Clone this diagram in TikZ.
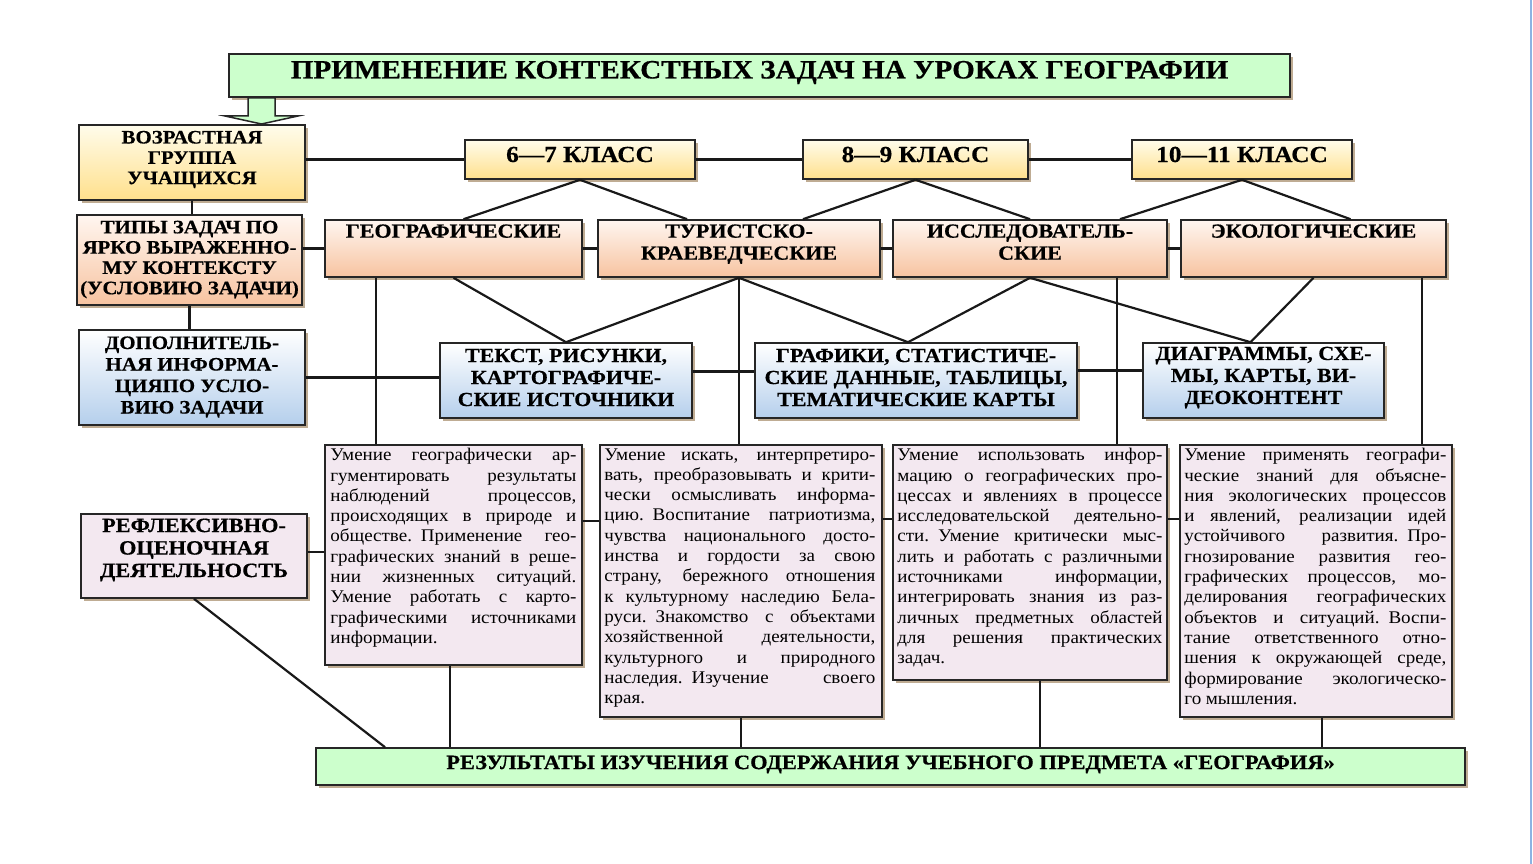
\documentclass[tikz,border=0pt]{standalone}
\usepackage{fontspec}
\setmainfont{Liberation Serif}
\newfontfamily\hdf[FakeStretch=1.1, FakeBold=0.5]{Liberation Serif Bold}
\newfontfamily\bodyf[FakeStretch=1.07]{Liberation Serif}
\usetikzlibrary{shadows}
\definecolor{ylTop}{HTML}{FFFCEB}
\definecolor{ylBot}{HTML}{FFE08C}
\definecolor{saTop}{HTML}{FFF6F0}
\definecolor{saBot}{HTML}{F7C3A0}
\definecolor{blTop}{HTML}{FFFFFF}
\definecolor{blBot}{HTML}{B5CFEC}
\definecolor{grn}{HTML}{CCFFCC}
\definecolor{pnk}{HTML}{F3E8F0}
\definecolor{shd}{HTML}{B09878}
\definecolor{edge}{HTML}{8DB3E2}
\newlength\tw
\newcommand\jl[1]{\hbox to \tw{\spaceskip=0.26em plus 3em minus 0.08em\relax #1}}
\newcommand\lastln[1]{\hbox{\spaceskip=0.26em plus 0.1em minus 0.06em\relax #1}}
\tikzset{
  box/.style={draw=black!85, line width=1.6pt, inner sep=0pt,
    drop shadow={shadow xshift=3pt, shadow yshift=-3pt, fill=shd, opacity=0.8}},
  ybox/.style={box, top color=ylTop, bottom color=ylBot},
  sbox/.style={box, top color=saTop, bottom color=saBot},
  bbox/.style={box, top color=blTop, bottom color=blBot},
  gbox/.style={box, fill=grn},
  pbox/.style={box, fill=pnk},
  hd/.style={inner sep=0pt, align=center, font=\hdf\fontsize{19}{20.3}\selectfont},
  body/.style={font=\bodyf\fontsize{17.8}{20.3}\selectfont, inner sep=0pt, align=left, anchor=north west},
  conn/.style={draw=black!90, line width=2.2pt}
}
\begin{document}
\begin{tikzpicture}[x=1pt, y=-1pt]
\useasboundingbox (0,0) rectangle (1533,864);
\fill[white] (0,0) rectangle (1533,864);
\draw[edge, line width=2pt] (1531,0) -- (1531,864);

% title and arrow
\node[gbox, minimum width=1061pt, minimum height=43pt] (title) at (759.5,75.5) {};
\node[hd, font=\hdf\fontsize{26.5}{28}\selectfont] (titleT) at ([yshift=3pt]title.center) {ПРИМЕНЕНИЕ КОНТЕКСТНЫХ ЗАДАЧ НА УРОКАХ ГЕОГРАФИИ};
\filldraw[fill=grn, draw=black!85, line width=1.5pt] (248,98) -- (275,98) -- (275,116) -- (298,116) -- (261.5,124) -- (225,116) -- (248,116) -- cycle;

% left column
\node[ybox, minimum width=226pt, minimum height=75pt] (A) at (192,162.5) {};
\node[hd] (AT) at ([yshift=3pt]A.center) {ВОЗРАСТНАЯ\\ГРУППА\\УЧАЩИХСЯ};
\node[sbox, minimum width=225pt, minimum height=90pt] (B) at (189.5,260) {};
\node[hd] (BT) at ([yshift=0.5pt]B.center) {ТИПЫ ЗАДАЧ ПО\\ЯРКО ВЫРАЖЕННО-\\МУ КОНТЕКСТУ\\(УСЛОВИЮ ЗАДАЧИ)};
\node[bbox, minimum width=226pt, minimum height=95pt] (C) at (192,377.5) {};
\node[hd, font=\hdf\fontsize{19}{21.5}\selectfont] (CT) at ([yshift=0.5pt]C.center) {ДОПОЛНИТЕЛЬ-\\НАЯ ИНФОРМА-\\ЦИЯПО УСЛО-\\ВИЮ ЗАДАЧИ};
\node[pbox, minimum width=226pt, minimum height=84pt] (D) at (194,556) {};
\node[hd, font=\hdf\fontsize{20.3}{22.5}\selectfont] (DT) at ([yshift=6pt]D.center) {РЕФЛЕКСИВНО-\\ОЦЕНОЧНАЯ\\ДЕЯТЕЛЬНОСТЬ};

% classes
\node[ybox, minimum width=230pt, minimum height=39pt] (k67) at (580,159.5) {};
\node[ybox, minimum width=225pt, minimum height=39pt] (k89) at (915.5,159.5) {};
\node[ybox, minimum width=220pt, minimum height=39pt] (k1011) at (1242,159.5) {};
\node[hd, font=\hdf\fontsize{23}{24}\selectfont] (k67T) at ([yshift=5pt]k67.center) {6—7 КЛАСС};
\node[hd, font=\hdf\fontsize{23}{24}\selectfont] (k89T) at ([yshift=5pt]k89.center) {8—9 КЛАСС};
\node[hd, font=\hdf\fontsize{23}{24}\selectfont] (k1011T) at ([yshift=5pt]k1011.center) {10—11 КЛАСС};

% task types
\node[sbox, minimum width=257pt, minimum height=57pt] (geo) at (453.5,248.5) {};
\node[sbox, minimum width=282pt, minimum height=57pt] (tur) at (739,248.5) {};
\node[sbox, minimum width=274pt, minimum height=57pt] (issl) at (1030,248.5) {};
\node[sbox, minimum width=265pt, minimum height=57pt] (eco) at (1313.5,248.5) {};
\node[hd, anchor=north, font=\hdf\fontsize{20}{22}\selectfont] (geoT) at ([yshift=-5pt]geo.north) {ГЕОГРАФИЧЕСКИЕ};
\node[hd, anchor=north, font=\hdf\fontsize{20}{22}\selectfont] (turT) at ([yshift=-5pt]tur.north) {ТУРИСТСКО-\\КРАЕВЕДЧЕСКИЕ};
\node[hd, anchor=north, font=\hdf\fontsize{20}{22}\selectfont] (isslT) at ([yshift=-5pt]issl.north) {ИССЛЕДОВАТЕЛЬ-\\СКИЕ};
\node[hd, anchor=north, font=\hdf\fontsize{20}{22}\selectfont] (ecoT) at ([yshift=-5pt]eco.north) {ЭКОЛОГИЧЕСКИЕ};

% sources
\node[bbox, minimum width=252pt, minimum height=75pt] (tekst) at (566,380.5) {};
\node[bbox, minimum width=322pt, minimum height=75pt] (graf) at (916,380.5) {};
\node[bbox, minimum width=241pt, minimum height=75pt] (diag) at (1263.5,380.5) {};
\node[hd, font=\hdf\fontsize{20}{22}\selectfont] (tekstT) at ([yshift=3pt]tekst.center) {ТЕКСТ, РИСУНКИ,\\КАРТОГРАФИЧЕ-\\СКИЕ ИСТОЧНИКИ};
\node[hd, font=\hdf\fontsize{20}{22}\selectfont] (grafT) at ([yshift=3pt]graf.center) {ГРАФИКИ, СТАТИСТИЧЕ-\\СКИЕ ДАННЫЕ, ТАБЛИЦЫ,\\ТЕМАТИЧЕСКИЕ КАРТЫ};
\node[hd, font=\hdf\fontsize{20}{22}\selectfont] (diagT) at ([yshift=3pt]diag.center) {ДИАГРАММЫ, СХЕ-\\МЫ, КАРТЫ, ВИ-\\ДЕОКОНТЕНТ};

% result text boxes
\node[pbox, minimum width=257pt, minimum height=220pt] (t1) at (453.5,555) {};
\node[pbox, minimum width=282pt, minimum height=272pt] (t2) at (741,581) {};
\node[pbox, minimum width=274pt, minimum height=235pt] (t3) at (1030,562.5) {};
\node[pbox, minimum width=272pt, minimum height=272pt] (t4) at (1316,581) {};

\setlength\tw{246pt}
\node[body, text width=246pt] (t1T) at ([xshift=6pt, yshift=-4pt]t1.north west) {%
\jl{Умение географически ар-}
\jl{гументировать результаты}
\jl{наблюдений процессов,}
\jl{происходящих в природе и}
\jl{обществе. Применение гео-}
\jl{графических знаний в реше-}
\jl{нии жизненных ситуаций.}
\jl{Умение работать с карто-}
\jl{графическими источниками}
\lastln{информации.}};
\setlength\tw{271pt}
\node[body, text width=271pt] (t2T) at ([xshift=5pt, yshift=-4pt]t2.north west) {%
\jl{Умение искать, интерпретиро-}
\jl{вать, преобразовывать и крити-}
\jl{чески осмысливать информа-}
\jl{цию. Воспитание патриотизма,}
\jl{чувства национального досто-}
\jl{инства и гордости за свою}
\jl{страну, бережного отношения}
\jl{к культурному наследию Бела-}
\jl{руси. Знакомство с объектами}
\jl{хозяйственной деятельности,}
\jl{культурного и природного}
\jl{наследия. Изучение своего}
\lastln{края.}};
\setlength\tw{265pt}
\node[body, text width=265pt] (t3T) at ([xshift=5pt, yshift=-4pt]t3.north west) {%
\jl{Умение использовать инфор-}
\jl{мацию о географических про-}
\jl{цессах и явлениях в процессе}
\jl{исследовательской деятельно-}
\jl{сти. Умение критически мыс-}
\jl{лить и работать с различными}
\jl{источниками информации,}
\jl{интегрировать знания из раз-}
\jl{личных предметных областей}
\jl{для решения практических}
\lastln{задач.}};
\setlength\tw{262pt}
\node[body, text width=262pt] (t4T) at ([xshift=5pt, yshift=-4pt]t4.north west) {%
\jl{Умение применять географи-}
\jl{ческие знаний для объясне-}
\jl{ния экологических процессов}
\jl{и явлений, реализации идей}
\jl{устойчивого развития. Про-}
\jl{гнозирование развития гео-}
\jl{графических процессов, мо-}
\jl{делирования географических}
\jl{объектов и ситуаций. Воспи-}
\jl{тание ответственного отно-}
\jl{шения к окружающей среде,}
\jl{формирование экологическо-}
\lastln{го мышления.}};

% bottom
\node[gbox, minimum width=1149pt, minimum height=37pt] (E) at (890.5,766.5) {};
\node[hd, font=\hdf\fontsize{20.4}{22}\selectfont] (ET) at ([yshift=2pt]E.center) {РЕЗУЛЬТАТЫ ИЗУЧЕНИЯ СОДЕРЖАНИЯ УЧЕБНОГО ПРЕДМЕТА «ГЕОГРАФИЯ»};

% connectors
\draw[conn] (A.east |- k67.west) -- (k67.west);
\draw[conn] (k67.east) -- (k89.west);
\draw[conn] (k89.east) -- (k1011.west);
\draw[conn] (A.south) -- (A.south |- B.north);
\draw[conn] (B.south) -- (B.south |- C.north);
\draw[conn] (geo.west -| B.east) -- (geo.west);
\draw[conn] (geo.east) -- (tur.west);
\draw[conn] (tur.east) -- (issl.west);
\draw[conn] (issl.east) -- (eco.west);
\draw[conn] (k67.south) -- ([xshift=10pt]geo.north);
\draw[conn] (k67.south) -- ([xshift=-52pt]tur.north);
\draw[conn] (k89.south) -- ([xshift=64pt]tur.north);
\draw[conn] (k89.south) -- (issl.north);
\draw[conn] (k1011.south) -- ([xshift=90pt]issl.north);
\draw[conn] (k1011.south) -- ([xshift=37pt]eco.north);
\draw[conn] (C.east) -- (C.east -| tekst.west);
\draw[conn] ([yshift=9pt]tekst.east) -- ([yshift=9pt]graf.west);
\draw[conn] ([yshift=10pt]graf.east) -- ([yshift=10pt]diag.west);
\draw[conn] (geo.south) -- (tekst.north);
\draw[conn] (tur.south) -- (tekst.north);
\draw[conn] (tur.south) -- ([xshift=-8pt]graf.north);
\draw[conn] (issl.south) -- ([xshift=-8pt]graf.north);
\draw[conn] (issl.south) -- ([xshift=-13pt]diag.north);
\draw[conn] (eco.south) -- ([xshift=-13pt]diag.north);
\draw[conn] ([xshift=-77.5pt]geo.south) -- ([xshift=-77.5pt]geo.south |- t1.north);
\draw[conn] (tur.south) -- (tur.south |- t2.north);
\draw[conn] ([xshift=87pt]issl.south) -- ([xshift=87pt]issl.south |- t3.north);
\draw[conn] ([xshift=108.5pt]eco.south) -- ([xshift=108.5pt]eco.south |- t4.north);
\draw[conn] ([yshift=-77pt]t1.north east) -- ([yshift=-77pt]t2.north west);
\draw[conn] ([yshift=-75pt]t2.north east) -- ([yshift=-75pt]t3.north west);
\draw[conn] ([yshift=-75pt]t3.north east) -- ([yshift=-75pt]t4.north west);
\draw[conn] ([yshift=4pt]D.east) -- ([yshift=4pt]D.east -| t1.west);
\draw[conn] (D.south) -- ([xshift=-505.5pt]E.north);
\draw[conn] ([xshift=-3.5pt]t1.south) -- ([xshift=-3.5pt]t1.south |- E.north);
\draw[conn] (t2.south) -- (t2.south |- E.north);
\draw[conn] ([xshift=10pt]t3.south) -- ([xshift=10pt]t3.south |- E.north);
\draw[conn] ([xshift=6pt]t4.south) -- ([xshift=6pt]t4.south |- E.north);
\end{tikzpicture}
\end{document}
